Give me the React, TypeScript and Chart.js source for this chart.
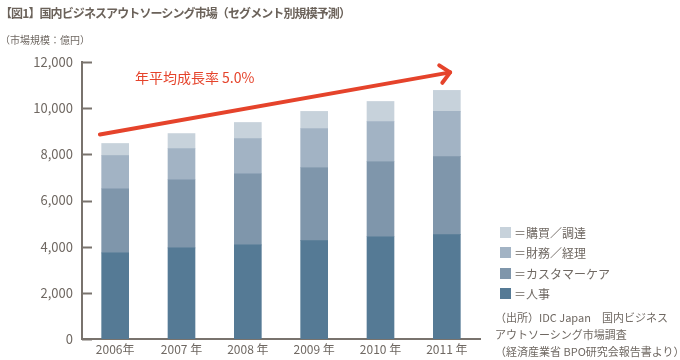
import React, { useEffect, useRef } from "react";
import { Chart, registerables } from "chart.js";

Chart.register(...registerables);

const years = ["2006年", "2007 年", "2008 年", "2009 年", "2010 年", "2011 年"];
const jinji = [3730, 3950, 4080, 4260, 4430, 4520];
const customerCare = [2780, 2950, 3080, 3170, 3260, 3380];
const zaimu = [1440, 1350, 1520, 1690, 1730, 1960];
const kobai = [520, 650, 700, 740, 870, 910];
const yTickValues = [0, 2000, 4000, 6000, 8000, 10000, 12000];
const trendStartEnd = [8860, 11550];
const trendLabel = "年平均成長率 5.0%";

const seriesLabels = ["人事", "カスタマーケア", "財務／経理", "購買／調達"];
const seriesColors = ["#557a95", "#7f96ab", "#a2b3c4", "#c7d2db"];

const FONT = "'Noto Sans CJK JP', 'Noto Sans', sans-serif";
const GRAY = "#6f6862";
const AXIS = "#79736d";
const RED = "#e5432b";

const overlayPlugin = {
  id: "overlay",
  afterDatasetsDraw(chart: any) {
    const { ctx, scales } = chart;
    const x = scales.x;
    const y = scales.y;
    const area = chart.chartArea;
    ctx.save();
    ctx.strokeStyle = AXIS;
    ctx.lineWidth = 2;
    yTickValues.forEach((v) => {
      const py = Math.round(y.getPixelForValue(v)) + 0.5;
      ctx.beginPath();
      ctx.moveTo(area.left, py);
      ctx.lineTo(area.left + 10, py);
      ctx.stroke();
    });
    const step = x.getPixelForValue(1) - x.getPixelForValue(0);
    const x0 = x.getPixelForValue(0) - 0.23 * step;
    const x1 = x.getPixelForValue(years.length - 1) + 0.05 * step;
    const y0 = y.getPixelForValue(trendStartEnd[0]);
    const y1 = y.getPixelForValue(trendStartEnd[1]);
    ctx.strokeStyle = RED;
    ctx.lineWidth = 4;
    ctx.lineCap = "round";
    ctx.lineJoin = "round";
    ctx.beginPath();
    ctx.moveTo(x0, y0);
    ctx.lineTo(x1, y1);
    ctx.stroke();
    const ang = Math.atan2(y1 - y0, x1 - x0);
    const len = 13;
    const spread = 0.75;
    ctx.beginPath();
    ctx.moveTo(x1 - len * Math.cos(ang - spread), y1 - len * Math.sin(ang - spread));
    ctx.lineTo(x1, y1);
    ctx.lineTo(x1 - len * Math.cos(ang + spread), y1 - len * Math.sin(ang + spread));
    ctx.stroke();
    ctx.fillStyle = RED;
    ctx.font = `14px ${FONT}`;
    ctx.textBaseline = "middle";
    ctx.textAlign = "left";
    ctx.fillText(trendLabel, x0 + 35, y.getPixelForValue(11300));
    ctx.restore();
  },
};

export default function App() {
  const ref = useRef<HTMLCanvasElement>(null);

  useEffect(() => {
    document.body.style.margin = "0";
    const canvas = ref.current;
    if (!canvas) return;
    const stacks = [jinji, customerCare, zaimu, kobai];
    const chart = new Chart(canvas, {
      type: "bar",
      data: {
        labels: years,
        datasets: stacks.map((d, i) => ({
          label: seriesLabels[i],
          data: d,
          backgroundColor: seriesColors[i],
          borderWidth: 0,
          barThickness: 27,
        })),
      },
      options: {
        responsive: false,
        animation: false,
        devicePixelRatio: 1,
        layout: { padding: { top: 62, right: 200, left: 0, bottom: 0 } },
        plugins: {
          legend: { display: false },
          tooltip: { enabled: false },
          title: { display: false },
        },
        scales: {
          x: {
            stacked: true,
            grid: { display: false, drawTicks: false },
            border: { display: true, color: AXIS, width: 2 },
            ticks: {
              color: GRAY,
              font: { family: FONT, size: 12 },
              padding: 3,
            },
            afterFit: (s: any) => {
              s.height = 21;
            },
          },
          y: {
            stacked: true,
            min: 0,
            max: 12000,
            grid: { display: false, drawTicks: false },
            border: { display: true, color: AXIS, width: 2 },
            ticks: {
              stepSize: 2000,
              color: GRAY,
              font: { family: FONT, size: 13 },
              padding: 9,
              callback: (v: any) => Number(v).toLocaleString("en-US"),
            },
            afterFit: (s: any) => {
              s.width = 82;
            },
          },
        },
      },
      plugins: [overlayPlugin],
    });
    return () => chart.destroy();
  }, []);

  const legendItems = [3, 2, 1, 0];

  return (
    <div
      style={{
        position: "absolute",
        left: 0,
        top: 0,
        width: 680,
        height: 360,
        background: "#fff",
        fontFamily: FONT,
        color: GRAY,
      }}
    >
      <canvas ref={ref} width={680} height={360} style={{ position: "absolute", left: 0, top: 0 }} />
      <div
        style={{
          position: "absolute",
          left: 0,
          top: 4,
          fontSize: 12,
          fontWeight: 700,
          color: "#6b625a",
          whiteSpace: "nowrap",
          lineHeight: "18px",
          letterSpacing: "-0.9px",
        }}
      >
        【図1】国内ビジネスアウトソーシング市場（セグメント別規模予測）
      </div>
      <div
        style={{
          position: "absolute",
          left: 0,
          top: 32,
          fontSize: 10,
          whiteSpace: "nowrap",
          lineHeight: "16px",
        }}
      >
        （市場規模：億円）
      </div>
      {legendItems.map((i, k) => (
        <div
          key={i}
          style={{
            position: "absolute",
            left: 500,
            top: 223 + k * 20.5,
            height: 18,
            display: "flex",
            alignItems: "center",
            fontSize: 12,
            whiteSpace: "nowrap",
          }}
        >
          <span
            style={{
              display: "inline-block",
              width: 11,
              height: 11,
              background: seriesColors[i],
              marginRight: 3,
            }}
          />
          <span>＝{seriesLabels[i]}</span>
        </div>
      ))}
      <div
        style={{
          position: "absolute",
          left: 495,
          top: 309,
          fontSize: 11,
          lineHeight: "17px",
          whiteSpace: "nowrap",
        }}
      >
        <div>（出所）IDC Japan　国内ビジネス</div>
        <div>アウトソーシング市場調査</div>
        <div>（経済産業省 BPO研究会報告書より）</div>
      </div>
    </div>
  );
}
